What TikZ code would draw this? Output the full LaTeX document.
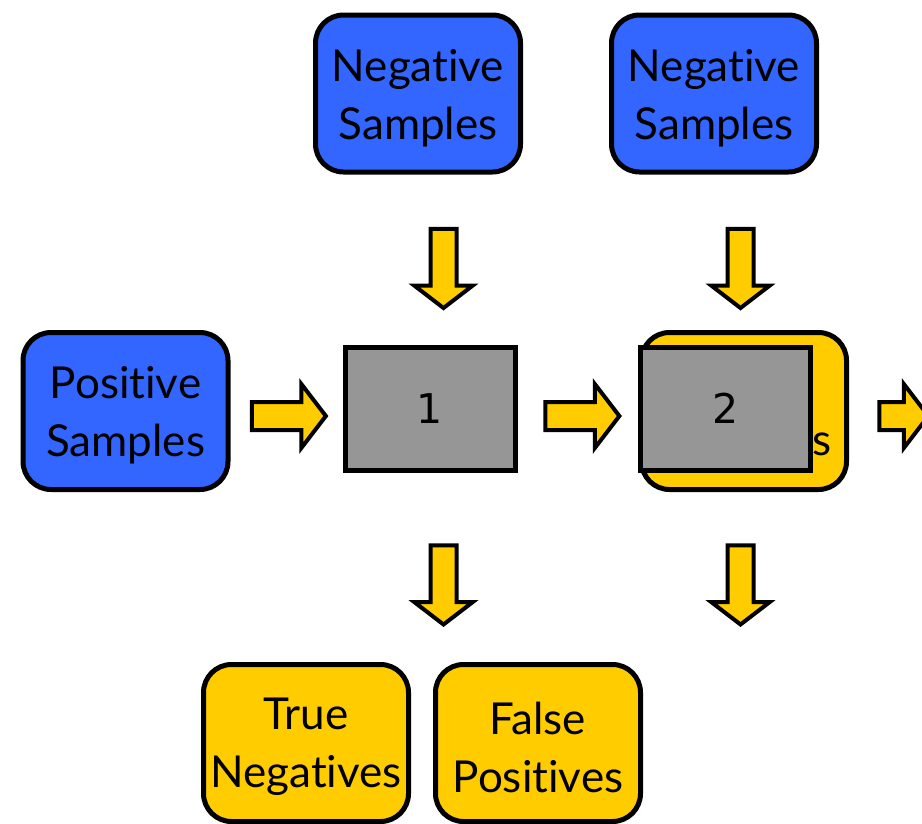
\documentclass[tikz,border=0pt]{standalone}
\usepackage{fontspec}
\setmainfont[Ligatures=NoCommon]{Lato}
\newfontfamily\numfont{DejaVu Sans}
\usetikzlibrary{shapes.arrows}
\definecolor{bblue}{HTML}{3366FF}
\definecolor{byellow}{HTML}{FFCC00}
\definecolor{bgray}{HTML}{969696}
\tikzset{
  rbox/.style={draw=black, line width=5pt, rounded corners=28pt, minimum width=205pt, minimum height=157pt, inner sep=0pt},
  bluebox/.style={rbox, fill=bblue},
  yellowbox/.style={rbox, fill=byellow},
  txt/.style={inner sep=0pt, align=center, font=\fontsize{44}{58}\selectfont},
  graybox/.style={draw=black, line width=5pt, fill=bgray, minimum width=170pt, minimum height=123pt, inner sep=0pt, font=\numfont\fontsize{41}{44}\selectfont},
  barrow/.style={single arrow, draw=black, line width=4pt, fill=byellow, inner sep=0pt, single arrow head extend=16pt, single arrow tip angle=105},
  rarrow/.style={barrow, single arrow head extend=18pt, text height=12pt, text depth=12pt, text width=0pt, minimum height=74pt},
  darrow/.style={barrow, shape border rotate=270, text height=0pt, text depth=0pt, text width=22pt, minimum height=79pt}
}
\begin{document}
\begin{tikzpicture}[x=1pt,y=-1pt]
\useasboundingbox (0,0) rectangle (922,823);
\clip (0,0) rectangle (922,823);
\node[bluebox] (neg1) at (418,93.5) {};
\node[txt] (neg1t) at ([yshift=-5pt]neg1.center) {Negative\\Samples};
\node[bluebox] (neg2) at (714,93.5) {};
\node[txt] (neg2t) at ([yshift=-5pt]neg2.center) {Negative\\Samples};
\node[bluebox] (pos) at (125.5,411) {};
\node[txt] (post) at ([yshift=-4pt]pos.center) {Positive\\Samples};
\node[yellowbox] (fp2) at (744,411) {};
\node[font=\fontsize{44}{58}\selectfont, anchor=base] (s) at (822.5,455) {s};
\node[graybox] (c1) at (430,408.5) {1};
\node[graybox] (c2) at (725.5,408.5) {2};
\node[yellowbox] (tn) at (306,743) {};
\node[txt] (tnt) at ([yshift=-4pt]tn.center) {True\\Negatives};
\node[yellowbox] (fp) at (538,743) {};
\node[txt] (fpt) at ([yshift=-4pt]fp.center) {False\\Positives};
\node[rarrow] (a1) at (283.5,416) {};
\node[rarrow] (a2) at (577,416) {};
\node[rarrow, minimum height=49pt] (a3) at (898.5,416) {};
\node[darrow] (d1) at (443.5,263.5) {};
\node[darrow] (d2) at (740.5,263.5) {};
\node[darrow] (d3) at (443.5,580) {};
\node[darrow] (d4) at (740.5,580) {};
\end{tikzpicture}
\end{document}
